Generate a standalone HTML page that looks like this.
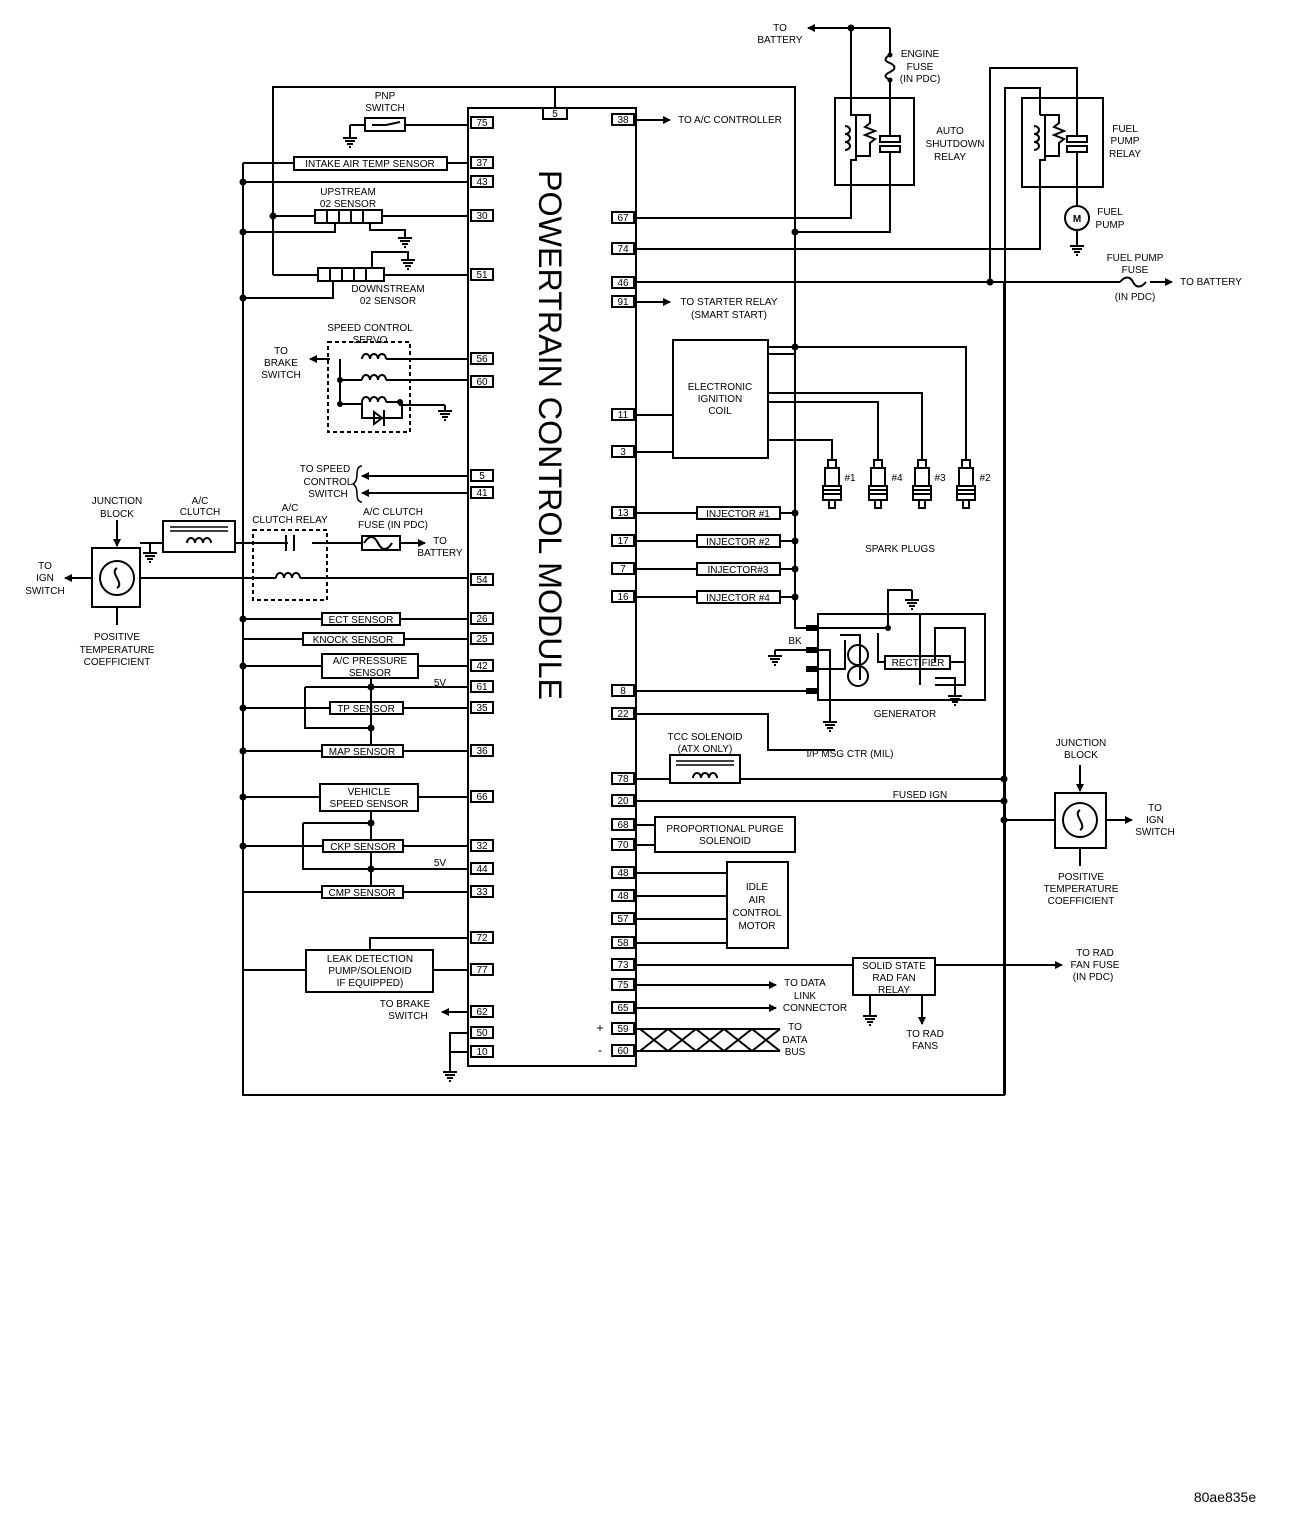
<!DOCTYPE html>
<html><head><meta charset="utf-8"><style>
html,body{margin:0;padding:0;background:#fff;}
svg{display:block;}
text{font-family:"Liberation Sans",sans-serif;font-size:10px;fill:#000;}
.m{text-anchor:middle;}
.b{font-weight:bold;}
</style></head><body>
<svg width="1312" height="1522" viewBox="0 0 1312 1522" xmlns="http://www.w3.org/2000/svg">
<defs>
<marker id="ar" markerWidth="8" markerHeight="8" refX="7" refY="4" orient="auto" markerUnits="userSpaceOnUse"><path d="M0,0 L8,4 L0,8 z" fill="#000"/></marker>
<g id="gnd"><path d="M0,0 v6 M-7,6 h14 M-5,9 h10 M-3,12 h6 M-1,15 h2" stroke="#000" stroke-width="2" fill="none"/></g>
<g id="coil"><path d="M0,0 a4,5 0 1 1 8,0 a4,5 0 1 1 8,0 a4,5 0 1 1 8,0" stroke="#000" stroke-width="2" fill="none"/></g>
<g id="vcoil"><path d="M0,0 a5,4 0 1 1 0,8 a5,4 0 1 1 0,8 a5,4 0 1 1 0,8" stroke="#000" stroke-width="2" fill="none"/></g>
<g id="plug"><rect x="-4" y="0" width="8" height="8" fill="none" stroke="#000" stroke-width="2"/><rect x="-7" y="8" width="14" height="18" fill="none" stroke="#000" stroke-width="2"/><path d="M-9,26 h18 v14 h-18 z M-9,30 h18 M-9,34 h18 M-3,40 v8 h6 v-8" stroke="#000" stroke-width="2" fill="none"/></g>
</defs>
<g stroke="#000" stroke-width="2" fill="none">
<rect x="468" y="108" width="168" height="958"/>
<rect x="543" y="108" width="24" height="11"/>
<g>
<rect x="471" y="117" width="22" height="11"/><rect x="471" y="157" width="22" height="11"/><rect x="471" y="176" width="22" height="11"/><rect x="471" y="210" width="22" height="11"/><rect x="471" y="269" width="22" height="11"/><rect x="471" y="353" width="22" height="11"/><rect x="471" y="376" width="22" height="11"/><rect x="471" y="470" width="22" height="11"/><rect x="471" y="487" width="22" height="11"/><rect x="471" y="574" width="22" height="11"/><rect x="471" y="613" width="22" height="11"/><rect x="471" y="633" width="22" height="11"/><rect x="471" y="660" width="22" height="11"/><rect x="471" y="681" width="22" height="11"/><rect x="471" y="702" width="22" height="11"/><rect x="471" y="745" width="22" height="11"/><rect x="471" y="791" width="22" height="11"/><rect x="471" y="840" width="22" height="11"/><rect x="471" y="863" width="22" height="11"/><rect x="471" y="886" width="22" height="11"/><rect x="471" y="932" width="22" height="11"/><rect x="471" y="964" width="22" height="11"/><rect x="471" y="1006" width="22" height="11"/><rect x="471" y="1027" width="22" height="11"/><rect x="471" y="1046" width="22" height="11"/>
</g>
<g>
<rect x="612" y="114" width="22" height="11"/><rect x="612" y="212" width="22" height="11"/><rect x="612" y="243" width="22" height="11"/><rect x="612" y="277" width="22" height="11"/><rect x="612" y="296" width="22" height="11"/><rect x="612" y="409" width="22" height="11"/><rect x="612" y="446" width="22" height="11"/><rect x="612" y="507" width="22" height="11"/><rect x="612" y="535" width="22" height="11"/><rect x="612" y="563" width="22" height="11"/><rect x="612" y="591" width="22" height="11"/><rect x="612" y="685" width="22" height="11"/><rect x="612" y="708" width="22" height="11"/><rect x="612" y="773" width="22" height="11"/><rect x="612" y="795" width="22" height="11"/><rect x="612" y="819" width="22" height="11"/><rect x="612" y="839" width="22" height="11"/><rect x="612" y="867" width="22" height="11"/><rect x="612" y="890" width="22" height="11"/><rect x="612" y="913" width="22" height="11"/><rect x="612" y="937" width="22" height="11"/><rect x="612" y="959" width="22" height="11"/><rect x="612" y="979" width="22" height="11"/><rect x="612" y="1002" width="22" height="11"/><rect x="612" y="1023" width="22" height="11"/><rect x="612" y="1045" width="22" height="11"/>
</g>
<path d="M243,163 V1095 H1004 V282"/>
<path d="M273,275 V87 H795 V620"/>
<path d="M555,87 V108"/>
<path d="M350,125 V132 M350,125 h15 M405,125 H468"/>
<rect x="365" y="118" width="40" height="13"/>
<path d="M372,125 h14 l14,-3"/>
<use href="#gnd" x="350" y="132"/>
<rect x="294" y="157" width="153" height="13"/>
<path d="M243,163 H294 M447,163 H468 M243,182 H468"/>
<rect x="315" y="210" width="67" height="13"/>
<path d="M327,210 v13 M339,210 v13 M351,210 v13 M363,210 v13"/>
<path d="M273,216 H315 M382,216 H468 M243,232 H335 V223 M370,223 v7 h35 v2"/>
<use href="#gnd" x="405" y="232"/>
<rect x="318" y="268" width="66" height="13"/>
<path d="M330,268 v13 M342,268 v13 M354,268 v13 M366,268 v13"/>
<path d="M273,275 H318 M384,275 H468 M243,298 H333 V281 M372,268 V252 H408 v2"/>
<use href="#gnd" x="408" y="254"/>
<rect x="328" y="342" width="82" height="90" stroke-dasharray="4,3"/>
<use href="#coil" x="362" y="359"/><use href="#coil" x="362" y="380"/><use href="#coil" x="362" y="402"/>
<path d="M330,359 H310 M386,359 H468 M340,359 V404 M340,380 h22 M386,380 H468 M340,404 h22 M386,402 h14 V405 h45"/>
<path d="M362,402 V418 h40 V402 M374,412 l8,6 l-8,6 z M384,410 v16"/>
<path d="M330,359 H310" marker-end="url(#ar)"/>
<use href="#gnd" x="445" y="405"/>
<path d="M468,476 H362" marker-end="url(#ar)"/>
<path d="M468,493 H362" marker-end="url(#ar)"/>
<path d="M362,466 q-5,0 -5,8 q0,8 -4,10 q4,2 4,10 q0,8 5,8" stroke-width="1.5"/>
<rect x="163" y="521" width="72" height="31"/>
<path d="M170,527 h58 M170,531 h58" stroke-width="1.5"/>
<use href="#coil" x="187" y="543"/>
<path d="M140,543 h23 M150,543 v4 M235,543 h53 M312,543 h50 M400,543 h25"/>
<use href="#gnd" x="150" y="547"/>
<rect x="253" y="530" width="74" height="70" stroke-dasharray="4,3"/>
<path d="M286,535 v16 M294,535 v16"/>
<use href="#coil" x="276" y="578"/>
<path d="M140,578 h136 M300,578 H468"/>
<path d="M364,543 c5,-8 10,-8 14,0 s9,8 14,0" />
<rect x="362" y="536" width="38" height="14"/>
<path d="M400,543 H425" marker-end="url(#ar)"/>
<rect x="92" y="548" width="48" height="59"/>
<circle cx="117" cy="578" r="17"/>
<path d="M117,568 c-8,5 8,15 0,20"/>
<path d="M117,520 V546" marker-end="url(#ar)"/>
<path d="M92,578 H65" marker-end="url(#ar)"/>
<path d="M117,607 V625"/>
<rect x="322" y="613" width="78" height="12"/><path d="M243,619 H322 M400,619 H468"/>
<rect x="303" y="633" width="101" height="12"/><path d="M243,639 H303 M404,639 H468"/>
<rect x="322" y="654" width="96" height="24"/><path d="M243,666 H322 M418,666 H468"/>
<path d="M371,678 V745 M305,687 H468 M305,687 V728 H371"/>
<rect x="330" y="702" width="73" height="12"/><path d="M243,708 H330 M403,708 H468"/>
<rect x="322" y="745" width="81" height="12"/><path d="M243,751 H322 M403,751 H468"/>
<rect x="320" y="784" width="98" height="27"/><path d="M243,797 H320 M418,797 H468"/>
<path d="M371,811 V840 M371,852 V886 M303,823 H371 M303,823 V869 H468"/>
<rect x="323" y="840" width="80" height="12"/><path d="M243,846 H323 M403,846 H468"/>
<rect x="322" y="886" width="81" height="12"/><path d="M243,892 H322 M403,892 H468"/>
<rect x="306" y="950" width="127" height="42"/>
<path d="M370,950 V938 H468 M433,970 H468 M306,970 H243"/>
<path d="M468,1012 H442" marker-end="url(#ar)"/>
<path d="M468,1033 H450 V1066 M450,1052 H468"/>
<use href="#gnd" x="450" y="1066"/>
<path d="M636,120 H670" marker-end="url(#ar)"/>
<path d="M636,302 H670" marker-end="url(#ar)"/>
<path d="M890,28 H808" marker-end="url(#ar)"/>
<path d="M851,28 V98 M890,28 V55 M890,80 V98"/>
<path d="M890,55 c-6,3 -6,6 0,8 c6,3 6,6 0,9 c-6,3 -6,5 0,8"/>
<rect x="835" y="98" width="79" height="87"/>
<path d="M851,98 V115 h5 V160 h-5 V218 H636"/>
<use href="#vcoil" x="845" y="126"/>
<path d="M856,115 h14 v8 l-5,4 l10,4 l-10,4 l10,4 l-5,4 v13 h-14"/>
<path d="M890,98 V136 M880,136 h20 v6 h-20 z M880,146 h20 v6 h-20 z M890,152 V232 H795"/>
<path d="M990,282 V68 H1077 V136 M1005,1095 V88 H1040 V115"/>
<rect x="1022" y="98" width="81" height="89"/>
<path d="M1040,115 h5 V160 h-5 V249 H636"/>
<use href="#vcoil" x="1034" y="126"/>
<path d="M1045,115 h14 v8 l-5,4 l10,4 l-10,4 l10,4 l-5,4 v13 h-14"/>
<path d="M1067,136 h20 v6 h-20 z M1067,146 h20 v6 h-20 z M1077,152 V206 M1077,230 V240"/>
<circle cx="1077" cy="218" r="12"/>
<use href="#gnd" x="1077" y="240"/>
<path d="M636,282 H1120 M1150,282 H1172"/>
<path d="M1120,282 c5,-6 10,-6 13,0 s8,6 13,0"/>
<path d="M1150,282 H1172" marker-end="url(#ar)"/>
<rect x="673" y="340" width="95" height="118"/>
<path d="M636,415 H673 M636,452 H673"/>
<path d="M768,347 H966 V460 M768,354 H795 M768,393 H922 V460 M768,402 H878 V460 M768,440 H832 V460"/>
<use href="#plug" x="832" y="460"/><use href="#plug" x="878" y="460"/><use href="#plug" x="922" y="460"/><use href="#plug" x="966" y="460"/>
<rect x="697" y="507" width="83" height="12"/><rect x="697" y="535" width="83" height="12"/><rect x="697" y="563" width="83" height="12"/><rect x="697" y="591" width="83" height="12"/>
<path d="M636,513 H697 M780,513 H795 M636,541 H697 M780,541 H795 M636,569 H697 M780,569 H795 M636,597 H697 M780,597 H795"/>
<path d="M795,620 V628 H818"/>
<rect x="818" y="614" width="167" height="86"/>
<path d="M888,630 V590 H912 M912,590 v4"/>
<use href="#gnd" x="912" y="594"/>
<path d="M818,628 H888 M878,633 V662 H885"/>
<rect x="885" y="656" width="65" height="13"/>
<path d="M950,662 h14 M920,614 V685 M935,685 H965 V628 H935 V662"/>
<path d="M935,678 H955 V690"/>
<use href="#gnd" x="955" y="690"/>
<path d="M775,650 H830 V716 M840,635 h20 v45"/>
<use href="#gnd" x="775" y="650"/>
<use href="#gnd" x="830" y="716"/>
<circle cx="858" cy="655" r="10"/><circle cx="858" cy="676" r="10"/>
<path d="M636,691 H806"/>
<path d="M806,628 h12 M806,650 h12 M806,669 h12 M806,691 h12" stroke-width="6"/>
<path d="M818,669 H845 V640"/>
<path d="M636,714 H768 V750 H835"/>
<rect x="670" y="755" width="70" height="28"/>
<path d="M676,761 h58 M676,765 h58" stroke-width="1.5"/>
<use href="#coil" x="693" y="778"/>
<path d="M636,779 H670 M740,779 H1004 M636,801 H1004 M1004,820 H1055"/>
<rect x="1055" y="793" width="51" height="55"/>
<circle cx="1080" cy="820" r="17"/>
<path d="M1080,810 c-8,5 8,15 0,20"/>
<path d="M1080,765 V791" marker-end="url(#ar)"/>
<path d="M1106,820 H1132" marker-end="url(#ar)"/>
<path d="M1080,848 V866"/>
<rect x="655" y="817" width="140" height="35"/>
<path d="M636,825 H655 M636,845 H655"/>
<rect x="727" y="862" width="61" height="86"/>
<path d="M636,873 H727 M636,896 H727 M636,919 H727 M636,943 H727"/>
<rect x="853" y="958" width="82" height="37"/>
<path d="M636,965 H853 M935,965 H1060"/>
<path d="M935,965 H1062" marker-end="url(#ar)"/>
<path d="M870,995 V1010"/><use href="#gnd" x="870" y="1010"/>
<path d="M922,995 V1024" marker-end="url(#ar)"/>
<path d="M636,985 H776" marker-end="url(#ar)"/>
<path d="M636,1008 H776" marker-end="url(#ar)"/>
<path d="M636,1029 H780 M636,1051 H780 M640,1029 L668,1051 M668,1029 L640,1051 M668,1029 L696,1051 M696,1029 L668,1051 M696,1029 L724,1051 M724,1029 L696,1051 M724,1029 L752,1051 M752,1029 L724,1051 M752,1029 L780,1051 M780,1029 L752,1051"/>
</g>
<g fill="#000">
<circle cx="243" cy="182" r="3.5"/><circle cx="273" cy="216" r="3.5"/><circle cx="243" cy="232" r="3.5"/><circle cx="243" cy="298" r="3.5"/><circle cx="243" cy="619" r="3.5"/><circle cx="243" cy="666" r="3.5"/><circle cx="243" cy="708" r="3.5"/><circle cx="243" cy="751" r="3.5"/><circle cx="243" cy="797" r="3.5"/><circle cx="243" cy="846" r="3.5"/><circle cx="371" cy="687" r="3.5"/><circle cx="371" cy="728" r="3.5"/><circle cx="371" cy="823" r="3.5"/><circle cx="371" cy="869" r="3.5"/><circle cx="340" cy="380" r="3"/><circle cx="340" cy="404" r="3"/><circle cx="400" cy="402" r="3"/>
<circle cx="851" cy="28" r="3.5"/><circle cx="795" cy="232" r="3.5"/><circle cx="990" cy="282" r="3.5"/><circle cx="795" cy="347" r="3.5"/><circle cx="795" cy="513" r="3.5"/><circle cx="795" cy="541" r="3.5"/><circle cx="795" cy="569" r="3.5"/><circle cx="795" cy="597" r="3.5"/><circle cx="1004" cy="779" r="3.5"/><circle cx="1004" cy="801" r="3.5"/><circle cx="1004" cy="820" r="3.5"/><circle cx="888" cy="628" r="3"/>
<circle cx="890" cy="55" r="2.5"/><circle cx="890" cy="80" r="2.5"/>
</g>
<text transform="translate(539,170) rotate(90)" style="font-size:32.5px" textLength="530" lengthAdjust="spacingAndGlyphs">POWERTRAIN CONTROL MODULE</text>
<g style="font-size:9px" class="m">
<text x="482" y="126" class="m">75</text><text x="482" y="166" class="m">37</text><text x="482" y="185" class="m">43</text><text x="482" y="219" class="m">30</text><text x="482" y="278" class="m">51</text><text x="482" y="362" class="m">56</text><text x="482" y="385" class="m">60</text><text x="482" y="479" class="m">5</text><text x="482" y="496" class="m">41</text><text x="482" y="583" class="m">54</text><text x="482" y="622" class="m">26</text><text x="482" y="642" class="m">25</text><text x="482" y="669" class="m">42</text><text x="482" y="690" class="m">61</text><text x="482" y="711" class="m">35</text><text x="482" y="754" class="m">36</text><text x="482" y="800" class="m">66</text><text x="482" y="849" class="m">32</text><text x="482" y="872" class="m">44</text><text x="482" y="895" class="m">33</text><text x="482" y="941" class="m">72</text><text x="482" y="973" class="m">77</text><text x="482" y="1015" class="m">62</text><text x="482" y="1036" class="m">50</text><text x="482" y="1055" class="m">10</text>
<text x="555" y="117" class="m">5</text>
<text x="623" y="123" class="m">38</text><text x="623" y="221" class="m">67</text><text x="623" y="252" class="m">74</text><text x="623" y="286" class="m">46</text><text x="623" y="305" class="m">91</text><text x="623" y="418" class="m">11</text><text x="623" y="455" class="m">3</text><text x="623" y="516" class="m">13</text><text x="623" y="544" class="m">17</text><text x="623" y="572" class="m">7</text><text x="623" y="600" class="m">16</text><text x="623" y="694" class="m">8</text><text x="623" y="717" class="m">22</text><text x="623" y="782" class="m">78</text><text x="623" y="804" class="m">20</text><text x="623" y="828" class="m">68</text><text x="623" y="848" class="m">70</text><text x="623" y="876" class="m">48</text><text x="623" y="899" class="m">48</text><text x="623" y="922" class="m">57</text><text x="623" y="946" class="m">58</text><text x="623" y="968" class="m">73</text><text x="623" y="988" class="m">75</text><text x="623" y="1011" class="m">65</text><text x="623" y="1032" class="m">59</text><text x="623" y="1054" class="m">60</text>
</g>
<g class="m">
<text x="385" y="99" class="m">PNP</text><text x="385" y="111" class="m">SWITCH</text>
<text x="370" y="167" class="m">INTAKE AIR TEMP SENSOR</text>
<text x="348" y="195" class="m">UPSTREAM</text><text x="348" y="207" class="m">02 SENSOR</text>
<text x="388" y="292" class="m">DOWNSTREAM</text><text x="388" y="304" class="m">02 SENSOR</text>
<text x="370" y="331" class="m">SPEED CONTROL</text><text x="370" y="343" class="m">SERVO</text>
<text x="281" y="354" class="m">TO</text><text x="281" y="366" class="m">BRAKE</text><text x="281" y="378" class="m">SWITCH</text>
<text x="325" y="472" class="m">TO SPEED</text><text x="328" y="485" class="m">CONTROL</text><text x="328" y="497" class="m">SWITCH</text>
<text x="117" y="504" class="m">JUNCTION</text><text x="117" y="517" class="m">BLOCK</text>
<text x="200" y="504" class="m">A/C</text><text x="200" y="515" class="m">CLUTCH</text>
<text x="290" y="511" class="m">A/C</text><text x="290" y="523" class="m">CLUTCH RELAY</text>
<text x="393" y="515" class="m">A/C CLUTCH</text><text x="393" y="528" class="m">FUSE (IN PDC)</text>
<text x="440" y="544" class="m">TO</text><text x="440" y="556" class="m">BATTERY</text>
<text x="45" y="569" class="m">TO</text><text x="45" y="581" class="m">IGN</text><text x="45" y="594" class="m">SWITCH</text>
<text x="117" y="640" class="m">POSITIVE</text><text x="117" y="653" class="m">TEMPERATURE</text><text x="117" y="665" class="m">COEFFICIENT</text>
<text x="361" y="623" class="m">ECT SENSOR</text>
<text x="353" y="643" class="m">KNOCK SENSOR</text>
<text x="370" y="664" class="m">A/C PRESSURE</text><text x="370" y="676" class="m">SENSOR</text>
<text x="440" y="686" class="m">5V</text>
<text x="366" y="712" class="m">TP SENSOR</text>
<text x="362" y="755" class="m">MAP SENSOR</text>
<text x="369" y="795" class="m">VEHICLE</text><text x="369" y="807" class="m">SPEED SENSOR</text>
<text x="363" y="850" class="m">CKP SENSOR</text>
<text x="440" y="866" class="m">5V</text>
<text x="362" y="896" class="m">CMP SENSOR</text>
<text x="370" y="962" class="m">LEAK DETECTION</text><text x="370" y="974" class="m">PUMP/SOLENOID</text><text x="370" y="986" class="m">IF EQUIPPED)</text>
<text x="405" y="1007" class="m">TO BRAKE</text><text x="408" y="1019" class="m">SWITCH</text>
<text x="780" y="31" class="m">TO</text><text x="780" y="43" class="m">BATTERY</text>
<text x="920" y="57" class="m">ENGINE</text><text x="920" y="70" class="m">FUSE</text><text x="920" y="82" class="m">(IN PDC)</text>
<text x="950" y="134" class="m">AUTO</text><text x="955" y="147" class="m">SHUTDOWN</text><text x="950" y="160" class="m">RELAY</text>
<text x="1125" y="132" class="m">FUEL</text><text x="1125" y="144" class="m">PUMP</text><text x="1125" y="157" class="m">RELAY</text>
<text x="1077" y="222" class="m b">M</text>
<text x="1110" y="215" class="m">FUEL</text><text x="1110" y="228" class="m">PUMP</text>
<text x="1135" y="261" class="m">FUEL PUMP</text><text x="1135" y="273" class="m">FUSE</text><text x="1135" y="300" class="m">(IN PDC)</text>
<text x="1211" y="285" class="m">TO BATTERY</text>
<text x="730" y="123" class="m">TO A/C CONTROLLER</text>
<text x="729" y="305" class="m">TO STARTER RELAY</text><text x="729" y="318" class="m">(SMART START)</text>
<text x="720" y="390" class="m">ELECTRONIC</text><text x="720" y="402" class="m">IGNITION</text><text x="720" y="414" class="m">COIL</text>
<text x="850" y="481" class="m">#1</text><text x="897" y="481" class="m">#4</text><text x="940" y="481" class="m">#3</text><text x="985" y="481" class="m">#2</text>
<text x="900" y="552" class="m">SPARK PLUGS</text>
<text x="738" y="517" class="m">INJECTOR #1</text><text x="738" y="545" class="m">INJECTOR #2</text><text x="738" y="573" class="m">INJECTOR#3</text><text x="738" y="601" class="m">INJECTOR #4</text>
<text x="795" y="644" class="m">BK</text>
<text x="918" y="666" class="m">RECTIFIER</text>
<text x="905" y="717" class="m">GENERATOR</text>
<text x="850" y="757" class="m">I/P MSG CTR (MIL)</text>
<text x="705" y="740" class="m">TCC SOLENOID</text><text x="705" y="752" class="m">(ATX ONLY)</text>
<text x="920" y="798" class="m">FUSED IGN</text>
<text x="1081" y="746" class="m">JUNCTION</text><text x="1081" y="758" class="m">BLOCK</text>
<text x="1155" y="811" class="m">TO</text><text x="1155" y="823" class="m">IGN</text><text x="1155" y="835" class="m">SWITCH</text>
<text x="1081" y="880" class="m">POSITIVE</text><text x="1081" y="892" class="m">TEMPERATURE</text><text x="1081" y="904" class="m">COEFFICIENT</text>
<text x="725" y="832" class="m">PROPORTIONAL PURGE</text><text x="725" y="844" class="m">SOLENOID</text>
<text x="757" y="890" class="m">IDLE</text><text x="757" y="903" class="m">AIR</text><text x="757" y="916" class="m">CONTROL</text><text x="757" y="929" class="m">MOTOR</text>
<text x="894" y="969" class="m">SOLID STATE</text><text x="894" y="981" class="m">RAD FAN</text><text x="894" y="993" class="m">RELAY</text>
<text x="1095" y="956" class="m">TO RAD</text><text x="1095" y="968" class="m">FAN FUSE</text><text x="1093" y="980" class="m">(IN PDC)</text>
<text x="925" y="1037" class="m">TO RAD</text><text x="925" y="1049" class="m">FANS</text>
<text x="805" y="986" class="m">TO DATA</text><text x="805" y="999" class="m">LINK</text><text x="815" y="1011" class="m">CONNECTOR</text>
<text x="600" y="1032" class="m" style="font-size:12px">+</text><text x="600" y="1054" class="m" style="font-size:12px">-</text>
<text x="795" y="1030" class="m">TO</text><text x="795" y="1043" class="m">DATA</text><text x="795" y="1055" class="m">BUS</text>
</g>
<text x="1225" y="1502" class="m" style="font-size:14px">80ae835e</text>
</svg>
</body></html>
